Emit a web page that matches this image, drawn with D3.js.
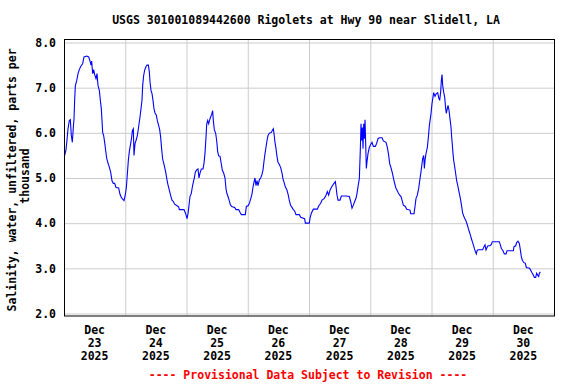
<!DOCTYPE html>
<html>
<head>
<meta charset="utf-8">
<script src="https://cdn.jsdelivr.net/npm/d3@7"></script>
<style>
  body { margin: 0; background: #fff; }
  text { font-family: "DejaVu Sans Mono", monospace; font-weight: bold; font-size: 11.5px; }
</style>
</head>
<body>
<div id="chart"></div>
<script>
// hours since Dec 23 2025 00:00, salinity in ppt
var hours = [0.1,0.26,0.78,1.18,1.57,2.09,2.48,2.87,3.27,3.66,3.92,4.18,4.44,4.96,5.49,6.01,6.53,7.31,7.84,8.88,9.67,10.19,10.58,10.84,11.23,11.62,12.02,12.54,12.93,13.32,13.85,14.24,14.63,14.89,15.15,15.54,15.93,16.33,16.72,17.24,17.76,18.29,18.81,19.33,19.85,20.38,21.42,21.94,22.47,22.99,23.51,24.03,24.43,24.82,25.21,25.6,26.12,26.52,26.78,27.17,27.43,27.82,28.22,28.74,29.26,29.78,30.17,30.56,30.83,31.22,31.61,32.13,32.52,33.05,33.44,33.7,34.09,34.48,34.87,35.27,35.66,36.18,36.57,37.1,37.49,37.88,38.27,38.66,39.18,39.58,39.97,40.36,40.75,41.27,41.8,42.32,42.84,43.36,44.15,44.93,45.19,47.02,
  47.67,48.2,48.59,48.98,49.37,49.89,50.28,50.68,51.07,51.46,51.98,52.5,52.9,53.29,53.81,54.47,54.86,55.25,55.64,55.9,56.3,56.69,57.08,57.47,57.86,58.25,58.51,58.9,59.43,59.82,60.21,60.6,61.13,61.65,62.04,62.56,63.09,63.48,63.87,64.26,64.65,65.18,65.7,66.87,67.4,68.44,68.96,69.49,71.05,71.45,72.23,72.75,73.27,73.67,74.06,74.45,74.84,75.23,75.63,76.02,76.54,77.06,77.58,77.98,78.37,78.76,79.15,79.54,79.94,80.46,81.24,81.76,82.02,82.29,82.68,83.07,83.46,83.85,84.38,84.9,85.42,85.81,86.21,86.73,87.25,87.77,88.3,88.82,89.34,89.86,90.38,90.91,92.21,92.73,94.3,94.56,96.13,
  96.4,96.92,97.7,99.27,99.79,100.58,101.1,102,102.67,103.19,103.71,104.23,104.76,105.28,105.8,106.32,106.59,106.98,107.37,108.15,108.68,110.5,111.81,112.33,112.85,113.38,113.9,114.42,114.81,115.21,115.73,116.12,116.38,116.64,116.9,117.17,117.43,117.69,117.95,118.21,118.47,118.73,119.12,119.65,120.17,120.69,121.22,122,122.52,123.04,123.57,124.61,125.13,126.18,126.7,127.22,127.61,128.01,128.4,128.79,129.18,129.57,129.97,130.49,131.01,131.53,132.05,132.45,132.97,133.75,134.28,135.58,135.84,137.15,137.54,137.93,138.45,138.98,139.5,139.89,140.28,140.54,140.94,141.2,141.46,141.85,142.38,142.77,143.16,
  143.81,144.2,144.59,144.85,145.37,145.9,146.42,146.81,147.2,147.59,147.85,148.12,148.38,148.77,149.16,149.55,149.81,150.08,150.47,150.86,151.25,151.64,151.9,152.17,152.43,152.69,153.08,153.47,153.86,154.26,154.65,155.04,155.43,155.82,156.21,156.61,157,157.52,158.04,158.44,158.83,159.22,159.61,160,160.39,160.79,161.18,161.57,161.83,162.22,164.05,164.57,164.97,165.36,165.75,166.14,166.93,167.45,167.84,170.58,170.97,171.37,172.02,172.54,173.2,173.59,176.07,176.33,176.98,177.37,177.9,178.42,178.81,179.2,179.6,180.12,180.77,181.16,182.47,182.86,183.38,183.9,184.3,184.82,185.21,185.6,186,186.26,186.65];
var salinity = [5.48,5.5,5.62,5.84,6.09,6.27,6.29,5.94,5.79,6.13,6.3,6.73,7.04,7.15,7.31,7.4,7.47,7.53,7.68,7.7,7.68,7.59,7.5,7.59,7.31,7.4,7.29,7.2,7.31,7.05,6.94,6.72,6.53,6.27,6.01,5.94,5.79,5.61,5.44,5.33,5.24,5.13,4.94,4.88,4.88,4.79,4.78,4.64,4.57,4.53,4.5,4.63,4.79,5.09,5.39,5.59,5.76,5.9,6.05,6.09,5.5,5.76,5.83,5.94,6.14,6.35,6.53,6.72,7.05,7.27,7.39,7.47,7.5,7.5,7.35,7.13,6.94,6.87,6.72,6.53,6.44,6.39,6.27,6.16,6.07,5.9,5.64,5.42,5.3,5.2,5.09,4.96,4.85,4.73,4.61,4.51,4.48,4.42,4.39,4.36,4.3,4.3,
  4.21,4.1,4.21,4.39,4.59,4.66,4.8,4.91,5,5.13,5.18,5.2,5,5.11,5.2,5.2,5.33,5.55,5.9,6.18,6.27,6.2,6.29,6.35,6.41,6.49,6.27,6.07,5.99,5.83,5.59,5.49,5.48,5.31,5.17,5.11,5,4.76,4.65,4.59,4.52,4.41,4.37,4.35,4.3,4.3,4.24,4.19,4.19,4.37,4.39,4.46,4.56,4.65,4.8,4.91,5,4.83,4.94,4.83,4.96,5,5.08,5.18,5.37,5.54,5.68,5.83,5.94,5.99,6.01,6.07,6.09,5.98,5.79,5.65,5.48,5.35,5.3,5.23,5.11,4.98,4.91,4.8,4.75,4.65,4.5,4.39,4.35,4.3,4.27,4.19,4.19,4.13,4.1,4,4,
  4.11,4.22,4.31,4.31,4.38,4.44,4.51,4.55,4.62,4.7,4.62,4.73,4.79,4.84,4.88,4.92,4.81,4.62,4.51,4.51,4.6,4.6,4.59,4.48,4.33,4.4,4.48,4.55,4.66,4.81,4.99,5.65,6.2,5.83,6.12,5.65,6.2,5.87,6.29,5.76,5.21,5.36,5.54,5.68,5.74,5.79,5.7,5.7,5.77,5.87,5.89,5.89,5.82,5.79,5.68,5.5,5.32,5.25,5.17,5.08,4.97,4.88,4.79,4.73,4.67,4.62,4.59,4.51,4.4,4.37,4.31,4.29,4.21,4.21,4.37,4.55,4.62,4.77,4.99,5.14,5.32,5.43,5.5,5.21,5.39,5.54,5.68,5.9,6.16,
  6.43,6.65,6.79,6.89,6.81,6.87,6.89,6.78,6.72,6.9,7.16,7.29,7.05,6.9,6.79,6.54,6.43,6.51,6.61,6.5,6.31,6.13,5.91,5.73,5.54,5.39,5.25,5.1,4.94,4.84,4.73,4.62,4.51,4.37,4.22,4.16,4.11,4.05,3.96,3.88,3.81,3.74,3.66,3.59,3.52,3.44,3.37,3.32,3.39,3.41,3.41,3.48,3.52,3.41,3.46,3.5,3.5,3.53,3.59,3.59,3.52,3.44,3.39,3.32,3.32,3.39,3.39,3.48,3.5,3.57,3.6,3.55,3.41,3.26,3.18,3.13,3.11,3.02,3,2.96,2.9,2.85,2.8,2.8,2.89,2.85,2.82,2.89,2.92];

var yTicks = [2, 3, 4, 5, 6, 7, 8];
var dayLabels = ["23", "24", "25", "26", "27", "28", "29", "30"];

var title = "USGS 301001089442600 Rigolets at Hwy 90 near Slidell, LA";
var yTitle = ["Salinity, water, unfiltered, parts per", "thousand"];
var footer = "---- Provisional Data Subject to Revision ----";

var W = 576, H = 384;
var plot = {left: 64, right: 554, top: 39.5, bottom: 316};

var start = new Date(2025, 11, 23);
var end = new Date(2025, 11, 31);
var data = hours.map(function(h, i) {
  return {t: new Date(start.getTime() + h * 3600e3), v: salinity[i]};
});

var x = d3.scaleTime().domain([start, end]).range([plot.left, plot.right]);
var y = d3.scaleLinear().domain([2, 8]).range([313.5, 42.5]);

var svg = d3.select("#chart").append("svg")
    .attr("width", W)
    .attr("height", H);

svg.append("rect").attr("width", W).attr("height", H).attr("fill", "#fff");

// grid lines (axes with long ticks)
var days = d3.timeDay.range(d3.timeDay.offset(start, 1), end);
svg.append("g")
    .attr("transform", "translate(0," + plot.bottom + ")")
    .call(d3.axisBottom(x).tickValues(days).tickSize(-(plot.bottom - plot.top)).tickFormat(""))
    .call(function(g) {
      g.select(".domain").remove();
      g.selectAll("line").attr("stroke", "#cccccc");
    });

svg.append("g")
    .attr("transform", "translate(" + plot.left + ",0)")
    .call(d3.axisLeft(y).tickValues(yTicks).tickSize(-(plot.right - plot.left)).tickPadding(8).tickFormat(d3.format(".1f")))
    .call(function(g) {
      g.select(".domain").remove();
      g.selectAll("line").attr("stroke", "#cccccc");
      g.selectAll("text").attr("fill", "#000")
        .style("font-family", "DejaVu Sans Mono").style("font-size", "11.5px").style("font-weight", "bold");
    });

// salinity line
var line = d3.line()
    .x(function(d) { return x(d.t); })
    .y(function(d) { return y(d.v); });

svg.append("path")
    .datum(data)
    .attr("fill", "none")
    .attr("stroke", "#0000ff")
    .attr("stroke-width", 1.1)
    .attr("d", line);

// frame
svg.append("rect")
    .attr("x", plot.left + 0.5)
    .attr("y", plot.top)
    .attr("width", plot.right - plot.left)
    .attr("height", plot.bottom - plot.top)
    .attr("fill", "none")
    .attr("stroke", "#000");

// x labels at noon of each day
var noons = dayLabels.map(function(d, i) { return d3.timeHour.offset(start, 12 + 24 * i); });
var xl = svg.append("g").selectAll("text").data(noons).join("text")
    .attr("text-anchor", "middle")
    .attr("x", function(d) { return x(d); })
    .attr("y", 334);
xl.append("tspan").attr("x", function(d) { return x(d); }).text("Dec");
xl.append("tspan").attr("x", function(d) { return x(d); }).attr("dy", 13).text(function(d, i) { return dayLabels[i]; });
xl.append("tspan").attr("x", function(d) { return x(d); }).attr("dy", 13).text("2025");

// title
svg.append("text")
    .attr("x", 306).attr("y", 24)
    .attr("text-anchor", "middle")
    .text(title);

// y title
svg.append("g").selectAll("text").data(yTitle).join("text")
    .attr("transform", function(d, i) {
      return "translate(" + (i === 0 ? 16 : 28.5) + "," + (i === 0 ? 180 : 176) + ") rotate(-90)";
    })
    .attr("text-anchor", "middle")
    .text(function(d) { return d; });

// footer
svg.append("text")
    .attr("x", 308).attr("y", 379)
    .attr("text-anchor", "middle")
    .attr("fill", "#ff0000")
    .text(footer);
</script>
</body>
</html>
